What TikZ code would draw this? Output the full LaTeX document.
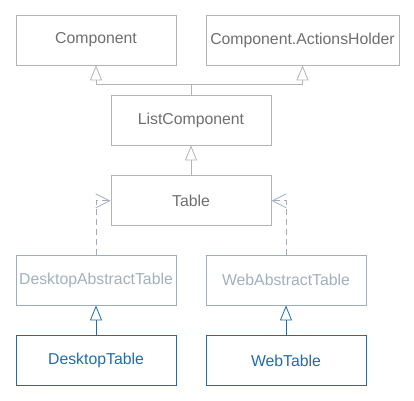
\documentclass[tikz,border=0pt]{standalone}
\usepackage{fontspec}
\setmainfont{Liberation Sans}
\usetikzlibrary{arrows.meta,positioning}
\definecolor{boxgray}{HTML}{B4B4B4}
\definecolor{txtgray}{HTML}{6E6E6E}
\definecolor{absgray}{HTML}{A3B0BC}
\definecolor{absline}{HTML}{9DAEBE}
\definecolor{implblue}{HTML}{1D6DAD}

\begin{document}
\begin{tikzpicture}[x=1pt,y=1pt,font=\fontsize{15.8}{18}\selectfont]
	\tikzstyle{cls}=[rectangle, draw=boxgray, text=txtgray, line width=0.8pt, minimum width=160pt, minimum height=50pt, inner sep=0pt]
	\tikzstyle{abs}=[cls, draw=absline, text=absgray]
	\tikzstyle{impl}=[cls, draw=implblue, text=implblue]
	\tikzstyle{inh}=[draw=boxgray, line width=0.8pt, -{Triangle[open,length=15pt,width=12pt]}]
	\tikzstyle{real}=[draw=absline, line width=0.8pt, dash pattern=on 6pt off 4pt, -{Straight Barb[length=14pt,width=14pt]}]

	\useasboundingbox (0,0) rectangle (414,400);

	\node[cls] (comp) at (96,360) {Component};
	\node[cls, minimum width=193pt] (holder) at (302.5,360) {Component.ActionsHolder};
	\node[cls] (list) at (191,280) {ListComponent};
	\node[cls] (table) [below=30pt of list] {Table};
	\node[abs] (deskabs) at (96,120) {DesktopAbstractTable};
	\node[abs] (webabs) at (286,120) {WebAbstractTable};
	\node[impl] (desk) [below=30pt of deskabs] {DesktopTable};
	\node[impl] (web) [below=30pt of webabs] {WebTable};

	\foreach \to in {comp,holder}
	\draw [inh] (list.north) -- ++(0,10) -| (\to.south);
	\draw [inh] (table) -- (list);
	\draw [real] (deskabs.north) |- (table.west);
	\draw [real] (webabs.north) |- (table.east);
	\foreach \from/\to in {desk/deskabs,web/webabs}
	\draw [inh, draw=implblue] (\from) -- (\to);
\end{tikzpicture}
\end{document}
